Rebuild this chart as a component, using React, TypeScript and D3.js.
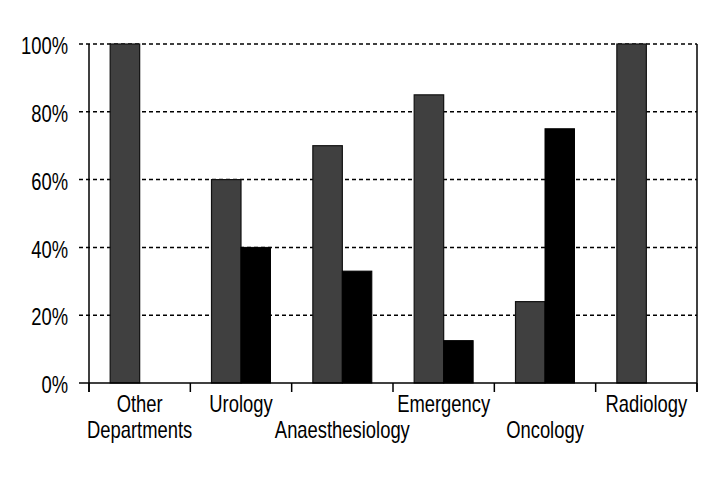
import React from "react";
import * as d3 from "d3";

const categories = ["Other Departments", "Urology", "Anaesthesiology", "Emergency", "Oncology", "Radiology"];
const labelLines = [["Other", "Departments"], ["Urology"], ["", "Anaesthesiology"], ["Emergency"], ["", "Oncology"], ["Radiology"]];
const seriesA = [100, 60, 70, 85, 24, 100];
const seriesB = [0, 40, 33, 12.5, 75, 0];
const yTicks = [0, 20, 40, 60, 80, 100];

const W = 720, H = 480;
const left = 89, right = 697, top = 44, bottom = 383;
const FONT = "'Liberation Sans', Arial, sans-serif";
const FS = 23;
const SX = 0.8;

function NarrowText({ x, y, anchor, children, dy }: { x: number; y: number; anchor: "start" | "middle" | "end"; children: React.ReactNode; dy?: string }) {
  return (
    <g transform={`translate(${x},${y}) scale(${SX},1)`}>
      <text x={0} y={0} dy={dy} textAnchor={anchor} fontFamily={FONT} fontSize={FS} fill="#000">{children}</text>
    </g>
  );
}

export default function App() {
  const x = d3.scaleBand<string>().domain(categories).range([left, right]).paddingInner(0.418).paddingOuter(0.209);
  const xi = d3.scaleBand<string>().domain(["a", "b"]).range([0, x.bandwidth()]);
  const y = d3.scaleLinear().domain([0, 100]).range([bottom, top]);
  const step = x.step();
  const boundaries = d3.range(categories.length + 1).map((i) => left + i * step);

  return (
    <svg width={W} height={H} style={{ position: "absolute", left: 0, top: 0, background: "#fff" }}>
      <rect x={0} y={0} width={W} height={H} fill="#fff" />
      {yTicks.filter((t) => t > 0).map((t) => (
        <line key={t} x1={79} x2={right} y1={y(t)} y2={y(t)} stroke="#000" strokeWidth={1.5} strokeDasharray="4,3" />
      ))}
      {categories.map((c, i) => (
        <g key={c}>
          {seriesA[i] > 0 && (
            <rect x={x(c)! + xi("a")!} y={y(seriesA[i])} width={xi.bandwidth()} height={bottom - y(seriesA[i])} fill="#404040" stroke="#111" strokeWidth={1.2} />
          )}
          {seriesB[i] > 0 && (
            <rect x={x(c)! + xi("b")!} y={y(seriesB[i])} width={xi.bandwidth()} height={bottom - y(seriesB[i])} fill="#000" stroke="#000" strokeWidth={1} />
          )}
        </g>
      ))}
      <line x1={left} x2={left} y1={top} y2={bottom + 9} stroke="#000" strokeWidth={1.5} />
      <line x1={right} x2={right} y1={top} y2={bottom + 9} stroke="#000" strokeWidth={1.5} />
      <line x1={79} x2={right} y1={bottom} y2={bottom} stroke="#000" strokeWidth={1.5} />
      {boundaries.map((b, i) => (
        <line key={i} x1={b} x2={b} y1={bottom} y2={bottom + 9} stroke="#000" strokeWidth={1.5} />
      ))}
      {yTicks.map((t) => (
        <NarrowText key={t} x={68} y={y(t)} dy="0.44em" anchor="end">{t}%</NarrowText>
      ))}
      {categories.map((c, i) => (
        <g key={c}>
          {labelLines[i].map((l, j) => (
            l ? <NarrowText key={j} x={x(c)! + x.bandwidth() / 2} y={412 + j * 26} anchor="middle">{l}</NarrowText> : null
          ))}
        </g>
      ))}
    </svg>
  );
}
